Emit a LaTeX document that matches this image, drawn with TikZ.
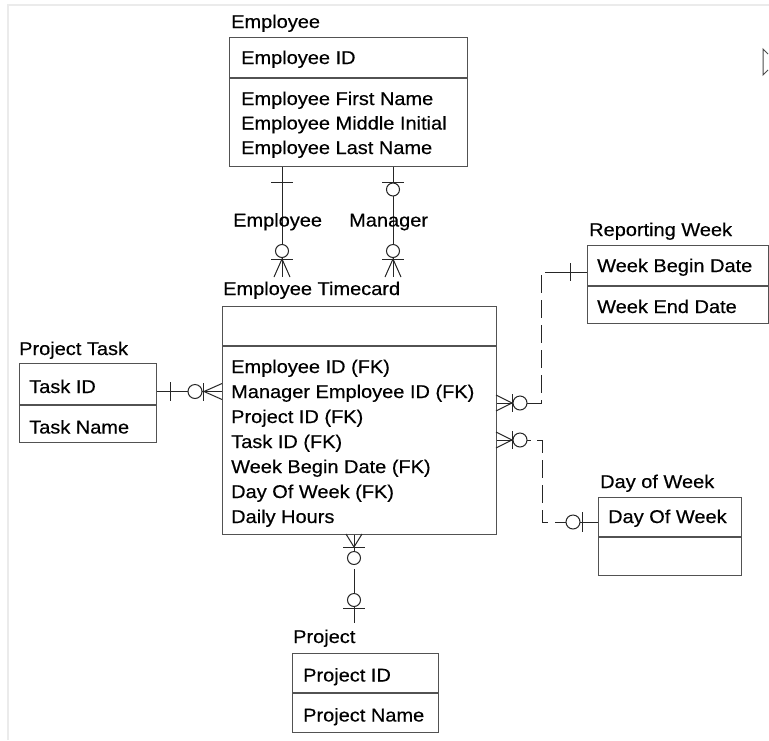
\documentclass[tikz,border=0pt]{standalone}
\usepackage{fontspec}
\setmainfont{Liberation Sans}[FakeStretch=1.08,FakeBold=0.4]
\usetikzlibrary{calc}
\begin{document}
\begin{tikzpicture}[x=1pt,y=-1pt,
  box/.style={draw=black!68, line width=1.2pt, inner sep=0pt, anchor=north west, fill=none},
  divider/.style={draw=black!68, line width=1.2pt},
  txt/.style={anchor=base west, inner sep=0pt, font=\fontsize{18.5}{20}\selectfont},
  conn/.style={line width=1pt, draw=black!85},
  dashline/.style={conn, dash pattern=on 18pt off 7pt},
  knot/.style={conn, fill=white}]
\useasboundingbox (0,0) rectangle (769,740);
\fill[white] (0,0) rectangle (769,740);
% faint frame
\draw[black!8, line width=2pt] (8,740) -- (8,5) -- (769,5);
% small triangle at the right edge
\draw[black!70, line width=1pt] (768,54) -- (763,49) -- (763,75) -- (768,70);

% ---------- Employee ----------
\node[txt] (empT) at (231,28) {Employee};
\node[box, minimum width=238pt, minimum height=129pt] (emp) at (229,37) {};
\draw[divider] (229,78) -- (467,78);
\node[txt] (emp1) at (241,64) {Employee ID};
\node[txt] (emp2) at (241,105) {Employee First Name};
\node[txt] (emp3) at (241,129.5) {Employee Middle Initial};
\node[txt] (emp4) at (241,154) {Employee Last Name};

% ---------- Employee Timecard ----------
\node[txt] (tcT) at (223,295) {Employee Timecard};
\node[box, minimum width=274pt, minimum height=228pt] (tc) at (222,306) {};
\draw[divider] (222,346) -- (496,346);
\node[txt] (tc1) at (231,373) {Employee ID (FK)};
\node[txt] (tc2) at (231,398) {Manager Employee ID (FK)};
\node[txt] (tc3) at (231,423) {Project ID (FK)};
\node[txt] (tc4) at (231,448) {Task ID (FK)};
\node[txt] (tc5) at (231,473) {Week Begin Date (FK)};
\node[txt] (tc6) at (231,498) {Day Of Week (FK)};
\node[txt] (tc7) at (231,523) {Daily Hours};

% ---------- Project Task ----------
\node[txt] (ptT) at (19,355) {Project Task};
\node[box, minimum width=137pt, minimum height=79pt] (pt) at (19,363) {};
\draw[divider] (19,405) -- (156,405);
\node[txt] (pt1) at (29,393) {Task ID};
\node[txt] (pt2) at (29,433.5) {Task Name};

% ---------- Reporting Week ----------
\node[txt] (rwT) at (589,236) {Reporting Week};
\node[box, minimum width=181pt, minimum height=78pt] (rw) at (587,245) {};
\draw[divider] (587,286) -- (768,286);
\node[txt] (rw1) at (597,272) {Week Begin Date};
\node[txt] (rw2) at (597,313) {Week End Date};

% ---------- Day of Week ----------
\node[txt] (dwT) at (600,488) {Day of Week};
\node[box, minimum width=143pt, minimum height=78pt] (dw) at (598,497) {};
\draw[divider] (598,537) -- (741,537);
\node[txt] (dw1) at (608,523) {Day Of Week};

% ---------- Project ----------
\node[txt] (prT) at (293,643) {Project};
\node[box, minimum width=146pt, minimum height=79pt] (pr) at (292,653) {};
\draw[divider] (292,693) -- (438,693);
\node[txt] (pr1) at (303,681.5) {Project ID};
\node[txt] (pr2) at (303,721.5) {Project Name};

% ---------- Employee -> Timecard (Employee role) ----------
\coordinate (xA) at (282,0);
\coordinate (eA) at (282,277);
\draw[conn] (emp.south -| xA) -- (eA);
\draw[conn] (271,182) -- (293,182);
\draw[knot] (282,251) circle (6.5pt);
\draw[conn] (271,259) -- (293,259);
\draw[conn] (274,277) -- (282,259) -- (290,277);
\node[txt] (lblE) at (233,226.5) {Employee};

% ---------- Employee -> Timecard (Manager role) ----------
\coordinate (xB) at (393,0);
\coordinate (eB) at (393,277);
\draw[conn] (emp.south -| xB) -- (eB);
\draw[conn] (382,182) -- (404,182);
\draw[knot] (393,189.5) circle (6.5pt);
\draw[knot] (393,251) circle (6.5pt);
\draw[conn] (382,259) -- (404,259);
\draw[conn] (385,277) -- (393,259) -- (401,277);
\node[txt] (lblM) at (349,226.5) {Manager};

% ---------- Project Task -> Timecard ----------
\coordinate (yC) at (0,391.5);
\draw[conn] (pt.east |- yC) -- (tc.west |- yC);
\draw[conn] (170,382) -- (170,401);
\draw[knot] (195,391.5) circle (7pt);
\draw[conn] (203,383) -- (203,401);
\draw[conn] (222,383.5) -- (204,391.5) -- (222,399.5);

% ---------- Reporting Week -> Timecard ----------
\coordinate (yD1) at (0,272);
\coordinate (yD2) at (0,403);
\coordinate (kD1) at (563,272);
\coordinate (kD2) at (536,403);
\draw[conn] (rw.west |- yD1) -- (kD1);
\draw[dashline] (kD1) -- (541,272) -- (541,403) -- (kD2);
\draw[conn] (kD2) -- (tc.east |- yD2);
\draw[conn] (570,263) -- (570,281);
\draw[knot] (520,403) circle (7pt);
\draw[conn] (512,394) -- (512,412);
\draw[conn] (496,395) -- (512,403) -- (496,411);

% ---------- Day of Week -> Timecard ----------
\coordinate (yE1) at (0,440);
\coordinate (yE2) at (0,522);
\coordinate (kE1) at (531,440);
\coordinate (kE2) at (556,522);
\draw[conn] (tc.east |- yE1) -- (kE1);
\draw[dashline] (537,440) -- (542,440) -- (542,522) -- (kE2);
\draw[conn] (kE2) -- (dw.west |- yE2);
\draw[knot] (520,440) circle (7pt);
\draw[conn] (512,431) -- (512,449);
\draw[conn] (496,432) -- (512,440) -- (496,448);
\draw[knot] (573,522) circle (7pt);
\draw[conn] (582,512) -- (582,532);

% ---------- Project -> Timecard ----------
\coordinate (xF) at (354,0);
\coordinate (eF) at (354,623);
\draw[conn] (tc.south -| xF) -- (354,553);
\draw[conn] (354,569) -- (eF);
\draw[conn] (346,534) -- (354,547) -- (362,534);
\draw[conn] (343,547) -- (365,547);
\draw[knot] (354,558) circle (6.5pt);
\draw[knot] (354,600) circle (6.5pt);
\draw[conn] (343,608) -- (365,608);
\end{tikzpicture}
\end{document}
